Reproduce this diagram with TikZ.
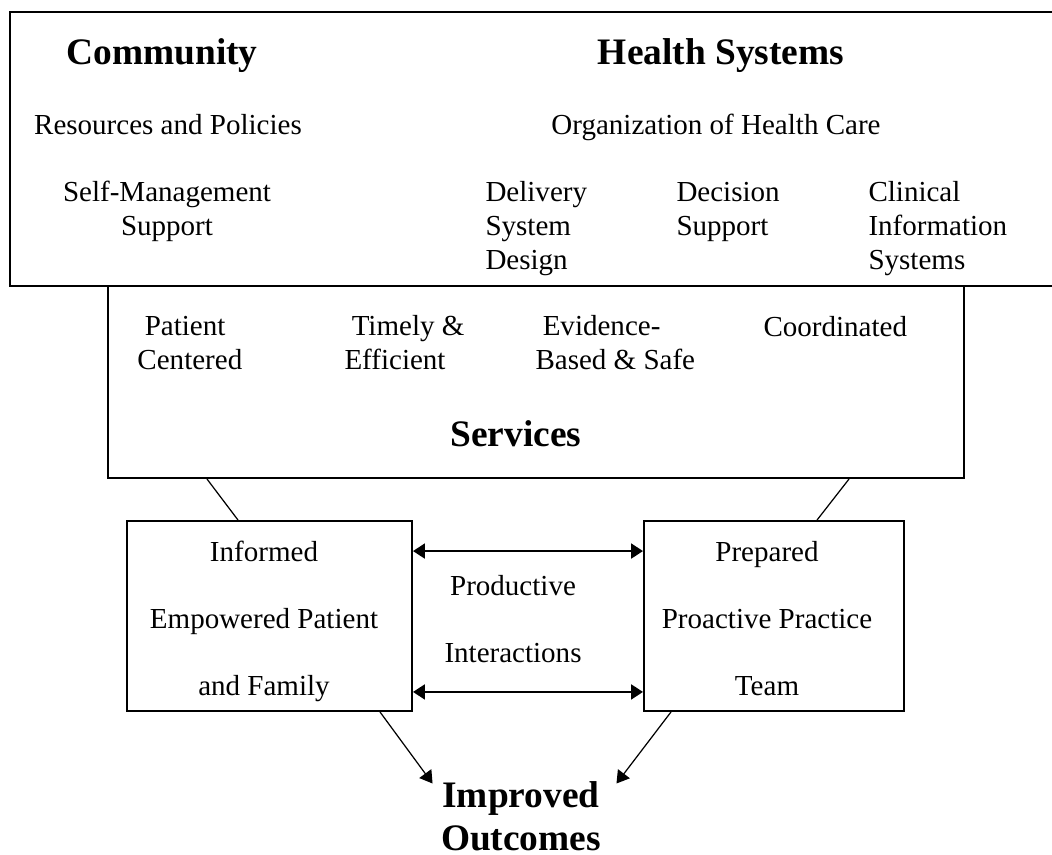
\documentclass[tikz,border=0pt]{standalone}
\usepackage{fontspec}
\setmainfont{Liberation Serif}
\usepackage{tikz}
\usetikzlibrary{arrows.meta, calc}

\begin{document}
\begin{tikzpicture}[
          x=0.4065pt, y=-0.4065pt,
          frame/.style={rectangle, draw, line width=0.8pt, inner sep=0pt},
          heading/.style={inner sep=0pt, font=\fontsize{15.2}{17.1}\selectfont\bfseries},
          label/.style={inner sep=0pt, font=\fontsize{11.8}{13.9}\selectfont},
          spaced/.style={inner sep=0pt, align=center, font=\fontsize{11.8}{27.2}\selectfont},
          link/.style={line width=0.5pt},
          both/.style={{Triangle[length=4.8pt,width=6pt]}-{Triangle[length=4.8pt,width=6pt]}, line width=0.9pt},
          lead/.style={-{Triangle[length=5pt,width=6pt]}, line width=0.5pt}
        ]
          \useasboundingbox (0,0) rectangle (1052,855);

          % Community and health systems
          \node[frame, minimum width=426.8pt, minimum height=111.4pt] (sysbox) at (535,149) {};
          \node[heading, anchor=base] (community) at (162,65) {Community};
          \node[heading, anchor=base] (health) at (721,65) {Health Systems};
          \node[label, anchor=base] (resources) at (168,135) {Resources and Policies};
          \node[label, anchor=base] (organization) at (716,135) {Organization of Health Care};
          \node[label, anchor=base, align=center] (selfmgmt) at (167,236) {Self-Management\\Support};
          \node[label, anchor=base west, align=left] (delivery) at (485,270) {Delivery\\System\\Design};
          \node[label, anchor=base west, align=left] (decision) at (676,236) {Decision\\Support};
          \node[label, anchor=base west, align=left] (clinical) at (868,270) {Clinical\\Information\\Systems};

          % Services
          \node[frame, minimum width=348pt, minimum height=78.05pt] (servbox) at (536,382) {};
          \node[label, anchor=base west, align=left] (patcent) at (137,370) {~Patient\\Centered};
          \node[label, anchor=base west, align=left] (timely) at (344,370) {~Timely \&\\Efficient};
          \node[label, anchor=base west, align=left] (evidence) at (535,370) {~Evidence-\\Based \& Safe};
          \node[label, anchor=base west] (coordinated) at (763,337) {Coordinated};
          \node[heading, anchor=base] (services) at (516,447) {Services};

          % Patient and practice team
          \node[frame, minimum width=115.85pt, minimum height=77.2pt] (patient) at (269.5,616) {};
          \node[spaced, anchor=base] (patienttxt) at (264,695) {Informed\\Empowered Patient\\and Family};
          \node[frame, minimum width=105.7pt, minimum height=77.2pt] (team) at (774,616) {};
          \node[spaced, anchor=base] (teamtxt) at (767,695) {Prepared\\Proactive Practice\\Team};
          \node[spaced, anchor=base] (interact) at (513,662) {Productive\\Interactions};

          % Outcomes
          \node[heading, align=center, anchor=base] (outcome) at (521,850) {Improved\\Outcomes};

          \draw[link] ($(servbox.south west)+(100,0)$) -- ($(patient.north west)+(112,0)$);
          \draw[link] ($(servbox.south east)+(-116,0)$) -- ($(team.north west)+(174,0)$);
          \draw[both] ($(patient.north east)+(0,31)$) -- ($(team.north west)+(0,31)$);
          \draw[both] ($(patient.south east)+(0,-20)$) -- ($(team.south west)+(0,-20)$);
          \draw[lead] ($(patient.south east)+(-33,0)$) -- ($(outcome.north west)+(-8,2)$);
          \draw[lead] ($(team.south west)+(28,0)$) -- ($(outcome.north east)+(15,2)$);
        \end{tikzpicture}
\end{document}
